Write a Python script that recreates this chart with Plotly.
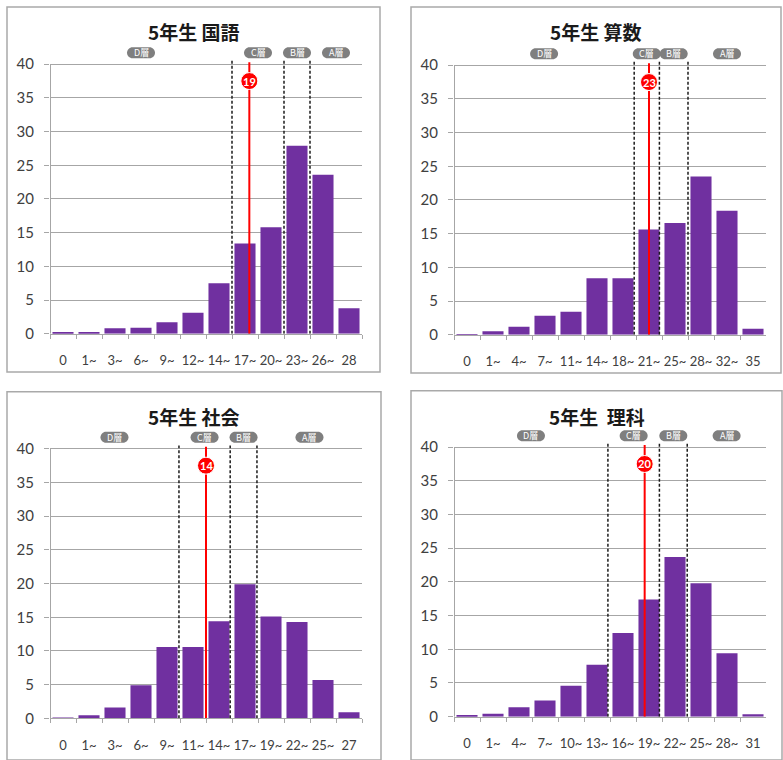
import plotly.graph_objects as go

# ---- data: share of pupils (%) per score bin, pupil's own score, band cut positions ----
kokugo_bins = ["0", "1~", "3~", "6~", "9~", "12~", "14~", "17~", "20~", "23~", "26~", "28"]
kokugo_pct = [0.2, 0.2, 0.8, 0.9, 1.7, 3.1, 7.5, 13.4, 15.8, 27.9, 23.6, 3.8]
kokugo_score = 19
kokugo_edges = [6.5, 8.5, 9.5]

sansu_bins = ["0", "1~", "4~", "7~", "11~", "14~", "18~", "21~", "25~", "28~", "32~", "35"]
sansu_pct = [0.1, 0.5, 1.2, 2.8, 3.4, 8.4, 8.4, 15.6, 16.6, 23.5, 18.4, 0.9]
sansu_score = 23
sansu_edges = [6.43, 7.4, 8.5]

shakai_bins = ["0", "1~", "3~", "6~", "9~", "11~", "14~", "17~", "19~", "22~", "25~", "27"]
shakai_pct = [0.1, 0.45, 1.6, 4.9, 10.6, 10.6, 14.4, 19.9, 15.1, 14.3, 5.7, 0.9]
shakai_score = 14
shakai_edges = [4.46, 6.43, 7.46]

rika_bins = ["0", "1~", "4~", "7~", "10~", "13~", "16~", "19~", "22~", "25~", "28~", "31"]
rika_pct = [0.15, 0.45, 1.4, 2.4, 4.6, 7.7, 12.4, 17.4, 23.7, 19.8, 9.4, 0.35]
rika_score = 20
rika_edges = [5.42, 7.4, 8.47]

band_names = ["D層", "C層", "B層", "A層"]
y_ticks = [0, 5, 10, 15, 20, 25, 30, 35, 40]

# ---- page geometry (pixels) ----
W, H = 783, 760
BAR = "#7030A0"
GRID = "#a6a6a6"
TICKFONT = "Lato"
CJK = "Noto Sans CJK JP"
YMAX = 43.0
PPU = 6.81            # pixels per percent on the value axis
CIRCLE_Y = 37.5
PILL_Y = 41.7


def score_pos(bins, score):
    """Position of a score on the bin axis (index units)."""
    lows = [int(b.rstrip("~")) for b in bins]
    for i in range(len(lows) - 1):
        if lows[i] <= score < lows[i + 1]:
            return i - 0.5 + (score - lows[i]) / (lows[i + 1] - lows[i])
    return len(lows) - 1


panels = [
    dict(title="5年生 国語", bins=kokugo_bins, pct=kokugo_pct, score=kokugo_score,
         edges=kokugo_edges, px=(50, 362), base=337.3, box=(7, 7, 380, 376), ty=32),
    dict(title="5年生 算数", bins=sansu_bins, pct=sansu_pct, score=sansu_score,
         edges=sansu_edges, px=(454, 766), base=338.3, box=(411, 7, 781, 377), ty=32),
    dict(title="5年生 社会", bins=shakai_bins, pct=shakai_pct, score=shakai_score,
         edges=shakai_edges, px=(50, 362), base=726.0, box=(7, 396, 381, 768), ty=421),
    dict(title="5年生\u00a0 理科", bins=rika_bins, pct=rika_pct, score=rika_score,
         edges=rika_edges, px=(454, 766), base=724.3, box=(411, 395, 782, 768), ty=421),
]

fig = go.Figure()
shapes, annotations = [], []
layout_axes = {}

pill_path = ("M-8.5,-5.5 H8.5 C11.5,-5.5 14,-3 14,0 C14,3 11.5,5.5 8.5,5.5 H-8.5 "
             "C-11.5,5.5 -14,3 -14,0 C-14,-3 -11.5,-5.5 -8.5,-5.5 Z")

for k, p in enumerate(panels, start=1):
    sx = "" if k == 1 else str(k)
    xr, yr = "x" + sx, "y" + sx
    top = p["base"] - YMAX * PPU
    xdom = [p["px"][0] / W, p["px"][1] / W]
    ydom = [(H - p["base"]) / H, (H - top) / H]

    fig.add_trace(go.Bar(x=p["bins"], y=p["pct"], xaxis=xr, yaxis=yr,
                         marker=dict(color=BAR, line=dict(width=0)),
                         showlegend=False, hoverinfo="x+y"))

    layout_axes["xaxis" + sx] = dict(
        domain=xdom, anchor=yr, type="category", range=[-0.5, 11.5],
        showline=True, linecolor=GRID, linewidth=1,
        ticks="outside", tickson="boundaries", ticklen=4, tickcolor=GRID,
        showgrid=False, tickangle=0, ticklabelstandoff=15,
        tickfont=dict(family=TICKFONT, size=13, color="#404040"),
        fixedrange=True)
    layout_axes["yaxis" + sx] = dict(
        domain=ydom, anchor=xr, range=[0, YMAX], tickvals=y_ticks,
        showgrid=True, gridcolor=GRID, gridwidth=1, zeroline=False,
        showline=False, ticks="outside", ticklen=5, tickcolor=GRID,
        ticklabelstandoff=7,
        tickfont=dict(family=TICKFONT, size=15, color="#404040"),
        fixedrange=True)

    # panel frame
    x0, y0, x1, y1 = p["box"]
    shapes.append(dict(type="rect", xref="paper", yref="paper",
                       x0=x0 / W, x1=x1 / W, y0=1 - y1 / H, y1=1 - y0 / H,
                       line=dict(color="#a9a9a9", width=1.5), layer="below"))

    # value axis line
    shapes.append(dict(type="line", xref=xr, yref=yr, x0=-0.5, x1=-0.5, y0=0, y1=40,
                       line=dict(color=GRID, width=2), layer="above"))

    # band boundaries
    for e in p["edges"]:
        shapes.append(dict(type="line", xref=xr, yref=yr, x0=e, x1=e, y0=0, y1=40.5,
                           line=dict(color="#1a1a1a", width=1.5, dash="3px,2px"),
                           layer="above"))

    # band labels
    bounds = [-0.5] + list(p["edges"]) + [11.5]
    for name, a, b in zip(band_names, bounds[:-1], bounds[1:]):
        c = (a + b) / 2
        shapes.append(dict(type="path", xref=xr, yref=yr, xsizemode="pixel",
                           ysizemode="pixel", xanchor=c, yanchor=PILL_Y, path=pill_path,
                           fillcolor="#7f7f7f", line=dict(width=0), layer="above"))
        annotations.append(dict(x=c, y=PILL_Y, xref=xr, yref=yr, text=name,
                                showarrow=False,
                                font=dict(family=CJK, size=9, color="white")))

    # pupil's score marker
    sp = score_pos(p["bins"], p["score"])
    shapes.append(dict(type="line", xref=xr, yref=yr, x0=sp, x1=sp, y0=0, y1=40.3,
                       line=dict(color="#ff0000", width=2), layer="above"))
    shapes.append(dict(type="circle", xref=xr, yref=yr, xsizemode="pixel",
                       ysizemode="pixel", xanchor=sp, yanchor=CIRCLE_Y,
                       x0=-8.5, x1=8.5, y0=-8.5, y1=8.5, fillcolor="#ff0000",
                       line=dict(color="white", width=1), layer="above"))
    annotations.append(dict(x=sp, y=CIRCLE_Y, xref=xr, yref=yr,
                            text="<b>%d</b>" % p["score"], showarrow=False,
                            font=dict(family=TICKFONT, size=11, color="white")))

    # panel title
    annotations.append(dict(x=(x0 + x1) / 2 / W, y=1 - p["ty"] / H, xref="paper",
                            yref="paper", text="<b>%s</b>" % p["title"],
                            showarrow=False, xanchor="center", yanchor="middle",
                            font=dict(family=CJK, size=19, color="#1a1a1a")))

fig.update_layout(
    width=W, height=H, margin=dict(l=0, r=0, t=0, b=0),
    paper_bgcolor="white", plot_bgcolor="white",
    bargap=0.19, shapes=shapes, annotations=annotations,
    **layout_axes)

fig.write_html("out.html")
